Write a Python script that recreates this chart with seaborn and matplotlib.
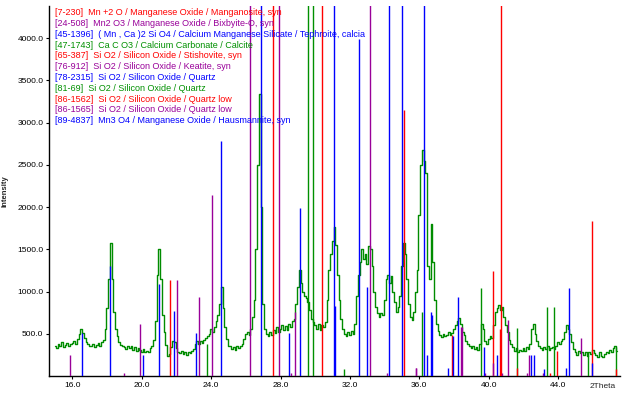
import numpy as np
import matplotlib
matplotlib.use("Agg")
import matplotlib.pyplot as plt
import seaborn as sns

# measured pattern, 2theta scan 15.0 - 47.4 deg, step 0.1
two_theta = np.round(np.arange(15.0, 47.45, 0.1), 1)
counts = [
    350, 330, 380, 360, 400, 340, 370, 390, 350, 380,      # 15
    390, 410, 380, 440, 500, 560, 510, 450, 400, 380,      # 16
    360, 350, 380, 340, 370, 390, 360, 400, 430, 560,      # 17
    800, 1150, 1580, 1150, 760, 560, 470, 400, 370, 350,   # 18
    340, 320, 350, 330, 360, 310, 340, 300, 330, 310,      # 19
    290, 320, 280, 300, 290, 330, 360, 430, 650, 1200,     # 20
    1500, 1150, 720, 520, 370, 240, 260, 340, 420, 400,    # 21
    330, 290, 270, 300, 260, 280, 250, 290, 270, 300,      # 22
    320, 380, 420, 380, 410, 390, 430, 450, 470, 500,      # 23
    560, 520, 580, 650, 720, 850, 1050, 800, 580, 440,     # 24
    360, 350, 320, 340, 310, 350, 330, 360, 380, 440,      # 25
    500, 520, 480, 560, 700, 900, 1500, 2500, 3340, 2000,  # 26
    850, 560, 500, 470, 520, 490, 540, 510, 580, 520,      # 27
    560, 600, 540, 590, 550, 610, 580, 650, 680, 850,      # 28
    1050, 1250, 1100, 1000, 950, 920, 880, 780, 680, 640,  # 29
    600, 560, 620, 550, 600, 580, 640, 900, 1250, 1450,    # 30
    1600, 1760, 1550, 1200, 900, 680, 560, 500, 470, 520,  # 31
    480, 530, 500, 620, 950, 1200, 1350, 1500, 1380, 1450, # 32
    1320, 1540, 1500, 1300, 1000, 820, 740, 700, 740, 720, # 33
    900, 1150, 1200, 1100, 1180, 1000, 880, 760, 820, 950, # 34
    1300, 1580, 1450, 1150, 850, 700, 660, 760, 1000, 1250,  # 35
    1900, 2500, 2680, 2550, 2400, 1300, 1150, 1800, 1350, 900,  # 36
    620, 530, 480, 460, 500, 470, 490, 520, 480, 510,      # 37
    560, 600, 650, 690, 620, 520, 480, 420, 380, 350,      # 38
    330, 350, 320, 340, 310, 380, 620, 560, 420, 380,      # 39
    440, 470, 450, 600, 760, 800, 840, 780, 820, 700,      # 40
    600, 520, 430, 380, 340, 300, 330, 290, 310, 300,      # 41
    330, 300, 340, 320, 380, 560, 620, 500, 420, 350,      # 42
    330, 310, 340, 320, 350, 310, 330, 340, 320, 360,      # 43
    400, 380, 420, 440, 520, 600, 560, 500, 400, 320,      # 44
    290, 250, 300, 270, 290, 250, 280, 240, 290, 260,      # 45
    310, 270, 250, 230, 280, 240, 220, 260, 290, 270,      # 46
    310, 280, 330, 350, 300,                               # 47
]

# reference sticks, grouped by the colour used for them
# (values above the axis top run off the chart, as in the original)
red_pos = [21.64, 27.54, 30.40, 35.13, 37.86, 40.27, 40.63, 40.73, 41.65,
           43.52, 43.96, 45.98, 47.36]
red_int = [1136, 6000, 6000, 3148, 480, 1245, 556, 6000, 90,
           40, 300, 1836, 80]

purple_pos = [15.88, 18.99, 19.92, 22.00, 23.31, 24.06, 26.21, 27.88, 28.62,
              28.85, 33.13, 34.15, 35.78, 35.82, 38.38, 38.44, 39.81, 40.25,
              40.79, 41.09, 42.20, 42.31, 43.13, 45.35]
purple_int = [249, 40, 620, 1136, 935, 2142, 6000, 6000, 40,
              761, 6000, 40, 91, 91, 583, 583, 40, 150,
              35, 663, 31, 249, 40, 446]

blue_pos = [16.57, 18.18, 20.05, 20.99, 21.87, 23.15, 24.59, 26.85, 28.46,
            29.09, 31.10, 31.14, 32.54, 33.00, 34.27, 35.02, 36.28, 36.45,
            36.70, 36.74, 37.67, 37.96, 38.25, 39.70, 40.50, 42.46, 42.63,
            43.21, 44.48, 44.65, 45.98]
blue_int = [510, 1305, 249, 1090, 773, 510, 2783, 6000, 510,
            1984, 6000, 828, 3984, 1049, 6000, 6000, 6000, 249,
            761, 722, 91, 470, 935, 345, 249, 249, 249,
            79, 91, 1045, 154]

green_pos = [23.74, 29.60, 29.89, 31.64, 36.13, 39.58, 41.65, 43.38, 43.79,
             45.71, 47.33]
green_int = [380, 6000, 6000, 79, 761, 1045, 564, 815, 815,
             249, 347]

cards = [
    "[7-230]  Mn +2 O / Manganese Oxide / Manganosite, syn",
    "[24-508]  Mn2 O3 / Manganese Oxide / Bixbyite-O, syn",
    "[45-1396]  ( Mn , Ca )2 Si O4 / Calcium Manganese Silicate / Tephroite, calcia",
    "[47-1743]  Ca C O3 / Calcium Carbonate / Calcite",
    "[65-387]  Si O2 / Silicon Oxide / Stishovite, syn",
    "[76-912]  Si O2 / Silicon Oxide / Keatite, syn",
    "[78-2315]  Si O2 / Silicon Oxide / Quartz",
    "[81-69]  Si O2 / Silicon Oxide / Quartz",
    "[86-1562]  Si O2 / Silicon Oxide / Quartz low",
    "[86-1565]  Si O2 / Silicon Oxide / Quartz low",
    "[89-4837]  Mn3 O4 / Manganese Oxide / Hausmannite, syn",
]

RED, PURPLE, BLUE, GREEN = "#ff0000", "#990099", "#0000ff", "#009000"
card_colors = [RED, PURPLE, BLUE, GREEN] * 3

sns.set_style("ticks")
plt.rcParams["font.family"] = ["Liberation Sans", "DejaVu Sans"]

fig = plt.figure(figsize=(6.23, 3.95), dpi=100)
ax = fig.add_axes([49 / 623, 19 / 395, 571 / 623, 370 / 395])

sns.lineplot(x=two_theta, y=counts, ax=ax, color="#008c00", lw=1.0,
             drawstyle="steps-mid", estimator=None, zorder=2)

for pos, inten, col in [(green_pos, green_int, GREEN), (red_pos, red_int, RED),
                        (purple_pos, purple_int, PURPLE), (blue_pos, blue_int, BLUE)]:
    ax.vlines(pos, 0, inten, colors=col, lw=1.0, zorder=3)

ax.set_xlim(14.645, 47.57)
ax.set_ylim(0, 4380)

xt = [16, 20, 24, 28, 32, 36, 40, 44]
ax.set_xticks(xt)
ax.set_xticklabels(["{0:.1f}".format(v) for v in xt], fontsize=6)
yt = [500, 1000, 1500, 2000, 2500, 3000, 3500, 4000]
ax.set_yticks(yt)
ax.set_yticklabels(["{0:.1f}".format(v) for v in yt], fontsize=6)
ax.tick_params(length=2.5, width=0.8, pad=1.5, colors="black")

for s in ["top", "right"]:
    ax.spines[s].set_visible(False)
for s in ["left", "bottom"]:
    ax.spines[s].set_linewidth(1.0)
    ax.spines[s].set_color("black")

ax.set_xlabel("")
ax.set_ylabel("Intensity", fontsize=5.5, fontweight="bold")
ax.yaxis.set_label_coords(-41 / 571, 0.5)

ax.text(0.97, -0.019, "2Theta", transform=ax.transAxes, fontsize=6,
        ha="center", va="top")

for i, (txt, col) in enumerate(zip(cards, card_colors)):
    y = (370 - (6.7 + 10.8 * i)) / 370
    ax.text(6 / 571, y, txt, transform=ax.transAxes, fontsize=6.5, color=col,
            ha="left", va="center", zorder=5)

fig.savefig("out.png", dpi=100)
